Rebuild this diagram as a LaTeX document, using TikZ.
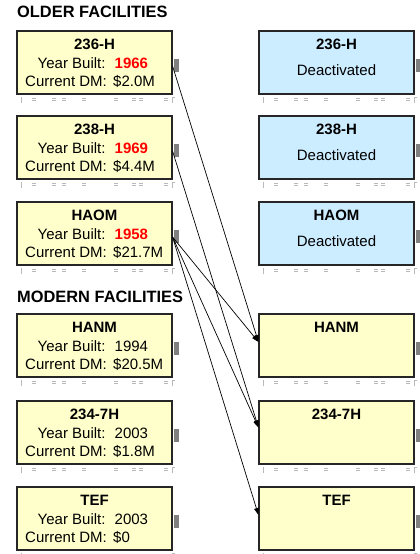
\documentclass[tikz,border=0pt]{standalone}
\usepackage{fontspec}
\setmainfont{Liberation Sans}
\usetikzlibrary{arrows.meta}
\definecolor{facyellow}{HTML}{FFFFCC}
\definecolor{facblue}{HTML}{CCECFF}
\definecolor{facred}{HTML}{FF0000}

\begin{document}
\begin{tikzpicture}[x=1pt,y=-1pt]
\tikzstyle{box} = [rectangle, draw=black!85, line width=1.1pt, minimum width=155pt, minimum height=63pt, inner sep=0pt]
\tikzstyle{oldbox} = [box, fill=facyellow]
\tikzstyle{offbox} = [box, fill=facblue]
\tikzstyle{txt} = [inner sep=0pt, anchor=base west, font=\fontsize{15}{18}\selectfont]
\tikzstyle{head} = [inner sep=0pt, anchor=base, font=\fontsize{15}{18}\selectfont\bfseries]
\tikzstyle{title} = [inner sep=0pt, anchor=base west, font=\fontsize{16.4}{18}\selectfont\bfseries]
\tikzstyle{year} = [txt, text=facred, font=\fontsize{15}{18}\selectfont\bfseries]
\tikzstyle{link} = [-{Triangle[length=7pt,width=4.5pt]}, line width=0.7pt]
\tikzstyle{stub} = [fill=black!50]
\tikzstyle{marks} = [draw=gray!55, line width=0.5pt]
\useasboundingbox (0,0) rectangle (420,554);

\node[title] (oldtitle) at (17,17) {OLDER FACILITIES};
\node[title] (newtitle) at (17,302) {MODERN FACILITIES};

% left column
\node[oldbox] (l236) at (94.5,62.5) {};
\node[head] (l236name) at (94.5,49) {236-H};
\node[txt] (l236y) at (37.5,68) {Year Built:};
\node[year] (l236yv) at (114.5,68) {1966};
\node[txt] (l236d) at (25,86.5) {Current DM:};
\node[txt] (l236dv) at (113,86.5) {\$2.0M};

\node[oldbox] (l238) at (94.5,147.5) {};
\node[head] (l238name) at (94.5,134) {238-H};
\node[txt] (l238y) at (37.5,153) {Year Built:};
\node[year] (l238yv) at (114.5,153) {1969};
\node[txt] (l238d) at (25,171.5) {Current DM:};
\node[txt] (l238dv) at (113,171.5) {\$4.4M};

\node[oldbox] (lhaom) at (94.5,233.5) {};
\node[head] (lhaomname) at (94.5,220) {HAOM};
\node[txt] (lhaomy) at (37.5,239) {Year Built:};
\node[year] (lhaomyv) at (114.5,239) {1958};
\node[txt] (lhaomd) at (25,257.5) {Current DM:};
\node[txt] (lhaomdv) at (113,257.5) {\$21.7M};

\node[oldbox] (lhanm) at (94.5,345.5) {};
\node[head] (lhanmname) at (94.5,332) {HANM};
\node[txt] (lhanmy) at (37.5,351) {Year Built:};
\node[txt] (lhanmyv) at (114.5,351) {1994};
\node[txt] (lhanmd) at (25,369.5) {Current DM:};
\node[txt] (lhanmdv) at (113,369.5) {\$20.5M};

\node[oldbox] (l2347) at (94.5,432.5) {};
\node[head] (l2347name) at (94.5,419) {234-7H};
\node[txt] (l2347y) at (37.5,438) {Year Built:};
\node[txt] (l2347yv) at (114.5,438) {2003};
\node[txt] (l2347d) at (25,456.5) {Current DM:};
\node[txt] (l2347dv) at (113,456.5) {\$1.8M};

\node[oldbox] (ltef) at (94.5,518.5) {};
\node[head] (ltefname) at (94.5,505) {TEF};
\node[txt] (ltefy) at (37.5,524) {Year Built:};
\node[txt] (ltefyv) at (114.5,524) {2003};
\node[txt] (ltefd) at (25,542.5) {Current DM:};
\node[txt] (ltefdv) at (113,542.5) {\$0};

% right column
\node[offbox] (r236) at (336.5,62.5) {};
\node[head] (r236name) at (336.5,49.5) {236-H};
\node[head, font=\fontsize{15}{18}\selectfont] (r236off) at (336.5,75.5) {Deactivated};
\node[offbox] (r238) at (336.5,147.5) {};
\node[head] (r238name) at (336.5,134.5) {238-H};
\node[head, font=\fontsize{15}{18}\selectfont] (r238off) at (336.5,160.5) {Deactivated};
\node[offbox] (rhaom) at (336.5,233.5) {};
\node[head] (rhaomname) at (336.5,220.5) {HAOM};
\node[head, font=\fontsize{15}{18}\selectfont] (rhaomoff) at (336.5,246.5) {Deactivated};
\node[oldbox] (rhanm) at (336.5,345.5) {};
\node[head] (rhanmname) at (336.5,332.5) {HANM};
\node[oldbox] (r2347) at (336.5,432.5) {};
\node[head] (r2347name) at (336.5,419.5) {234-7H};
\node[oldbox] (rtef) at (336.5,518.5) {};
\node[head] (rtefname) at (336.5,505.5) {TEF};

% connection stubs and ruler marks
\foreach \b in {l236,l238,lhaom,lhanm,l2347,ltef,r236,r238,rhaom,rhanm,r2347,rtef} {
  \fill[stub, shift={(\b.north east)}] (1,29) rectangle (6.5,42);
  \begin{scope}[shift={(\b.south west)}]
    \draw[marks] (5,2) -- (5,8);
    \foreach \dx in {16,36,46,66,98,116,123,148}
      \draw[marks] (\dx,3.5) -- ++(4,0) (\dx,5.5) -- ++(4,0);
    \draw[marks] (159,3) -- (156,3) -- (156,8);
  \end{scope}
}

\draw[link] ([yshift=-3.5pt]l236.east) -- ([yshift=3.5pt]rhanm.west);
\draw[link] ([yshift=-3.5pt]l238.east) -- ([yshift=5pt]r2347.west);
\draw[link] ([yshift=-3.5pt]lhaom.east) -- ([yshift=3.5pt]rhanm.west);
\draw[link] ([yshift=-3.5pt]lhaom.east) -- ([yshift=5pt]r2347.west);
\draw[link] ([yshift=-3.5pt]lhaom.east) -- ([yshift=3.5pt]rtef.west);
\end{tikzpicture}
\end{document}
